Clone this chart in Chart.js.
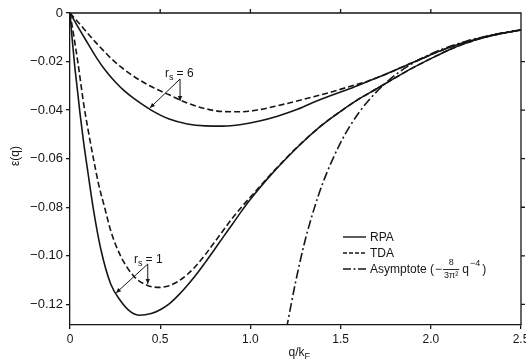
<!DOCTYPE html>
<html>
<head>
<meta charset="utf-8">
<script src="https://cdn.jsdelivr.net/npm/chart.js@4.4.1/dist/chart.umd.min.js"></script>
<style>
  body { margin: 0; background: #fff; }
  canvas { display: block; }
</style>
</head>
<body>
<canvas id="epsChart" width="526" height="360"></canvas>
<script>
// tick labels
const xTicks = [0, 0.5, 1.0, 1.5, 2.0, 2.5];
const yTicks = [0, -0.02, -0.04, -0.06, -0.08, -0.10, -0.12];

// r_s = 1, RPA (solid)
const qRpa1 = [0, 0.01, 0.025, 0.04, 0.055, 0.075, 0.1, 0.13, 0.17, 0.225, 0.28, 0.335, 0.385, 0.45, 0.5,
  0.55, 0.6, 0.65, 0.7, 0.75, 0.8, 0.85, 0.9, 0.95, 1.0, 1.1, 1.2, 1.3, 1.4, 1.5, 1.6, 1.7, 1.8, 1.9, 2.0, 2.1, 2.2, 2.3, 2.4, 2.5];
const rpa1 = [0, -0.009, -0.021, -0.031, -0.041, -0.053, -0.066, -0.081, -0.097, -0.1115, -0.1185, -0.123, -0.1245, -0.1238, -0.1222,
  -0.1198, -0.1163, -0.1122, -0.1077, -0.1027, -0.0975, -0.0922, -0.087, -0.0817, -0.0767, -0.0678, -0.0598, -0.0525, -0.046, -0.0405,
  -0.0355, -0.0312, -0.0268, -0.0226, -0.0188, -0.0152, -0.0123, -0.0100, -0.0083, -0.007];

// r_s = 1, TDA (dashed)
const qTda1 = [0, 0.02, 0.045, 0.075, 0.1, 0.13, 0.16, 0.19, 0.225, 0.28, 0.355, 0.43, 0.495, 0.55, 0.6, 0.65, 0.7, 0.75, 0.8, 0.85, 0.9, 0.95,
  1.0, 1.1, 1.2, 1.3, 1.4, 1.5, 1.6, 1.7, 1.8, 1.9, 2.0, 2.1, 2.2, 2.3, 2.4, 2.5];
const tda1 = [0, -0.009, -0.021, -0.037, -0.048, -0.060, -0.071, -0.0795, -0.0895, -0.100, -0.1085, -0.1122, -0.113, -0.1123, -0.1105, -0.1077, -0.104, -0.0995, -0.0945, -0.0895, -0.0845, -0.080,
  -0.0758, -0.0675, -0.0596, -0.0524, -0.046, -0.0405, -0.0355, -0.0312, -0.0268, -0.0226, -0.0188, -0.0152, -0.0123, -0.0100, -0.0083, -0.007];

// r_s = 6, RPA (solid)
const qRpa6 = [0, 0.04, 0.08, 0.15, 0.2, 0.25, 0.3, 0.35, 0.45, 0.55, 0.65, 0.75, 0.85, 0.95, 1.05, 1.15, 1.25, 1.35,
  1.45, 1.55, 1.65, 1.75, 1.85, 1.95, 2.05, 2.15, 2.25, 2.35, 2.5];
const rpa6 = [0, -0.0052, -0.0102, -0.0188, -0.0240, -0.0283, -0.0320, -0.035, -0.040, -0.0437, -0.0457, -0.0465, -0.0466, -0.0459, -0.0445, -0.0425, -0.040, -0.0368,
  -0.0339, -0.0312, -0.0282, -0.0252, -0.022, -0.0188, -0.0157, -0.013, -0.0108, -0.009, -0.007];

// r_s = 6, TDA (dashed)
const qTda6 = [0, 0.044, 0.15, 0.25, 0.35, 0.45, 0.55, 0.65, 0.75, 0.85, 0.95, 1.05, 1.15, 1.25, 1.35, 1.45, 1.55,
  1.65, 1.75, 1.85, 1.95, 2.05, 2.15, 2.25, 2.35, 2.5];
const tda6 = [0, -0.0037, -0.0127, -0.0202, -0.0259, -0.0303, -0.0337, -0.0371, -0.0394, -0.0406, -0.0407, -0.0398, -0.0382, -0.0364, -0.0345, -0.0325, -0.0303,
  -0.0281, -0.0252, -0.022, -0.0188, -0.0157, -0.013, -0.0108, -0.009, -0.007];

// large-q asymptote (dash-dot)
const qAsym = [1.2, 1.25, 1.3, 1.35, 1.4, 1.5, 1.6, 1.7, 1.8, 1.9, 2.0, 2.1, 2.2, 2.3, 2.4, 2.5];
const asym = [-0.130, -0.111, -0.0946, -0.0814, -0.0703, -0.0534, -0.0412, -0.0324, -0.0257, -0.0207, -0.0169, -0.0139, -0.0115, -0.0097, -0.0082, -0.0069];

const ink = '#161616';
const font = '"Liberation Sans", Arial, Helvetica, sans-serif';

function pts(qs, vs) {
  return qs.map((q, i) => ({ x: q, y: vs[i] }));
}

function line(label, qs, vs, dash) {
  return {
    label: label,
    data: pts(qs, vs),
    borderColor: ink,
    borderWidth: 1.6,
    borderDash: dash,
    pointRadius: 0,
    fill: false,
    cubicInterpolationMode: 'monotone'
  };
}

function arrow(ctx, x1, y1, x2, y2) {
  ctx.beginPath();
  ctx.moveTo(x1, y1);
  ctx.lineTo(x2, y2);
  ctx.stroke();
  const a = Math.atan2(y2 - y1, x2 - x1);
  const len = 5, w = 2.2;
  ctx.beginPath();
  ctx.moveTo(x2, y2);
  ctx.lineTo(x2 - len * Math.cos(a) + w * Math.sin(a), y2 - len * Math.sin(a) - w * Math.cos(a));
  ctx.lineTo(x2 - len * Math.cos(a) - w * Math.sin(a), y2 - len * Math.sin(a) + w * Math.cos(a));
  ctx.closePath();
  ctx.fill();
}

function rsLabel(ctx, x, y, val) {
  ctx.font = '12px ' + font;
  ctx.fillText('r', x, y);
  let cx = x + ctx.measureText('r').width;
  ctx.font = '9px ' + font;
  ctx.fillText('s', cx, y + 3);
  cx += ctx.measureText('s').width + 3;
  ctx.font = '12px ' + font;
  ctx.fillText('= ' + val, cx, y);
}

const extras = {
  id: 'extras',
  afterDraw(chart) {
    const { ctx, chartArea: a, scales: { x, y } } = chart;
    ctx.save();
    ctx.strokeStyle = ink;
    ctx.fillStyle = ink;

    // top and right frame with ticks
    ctx.lineWidth = 1.3;
    ctx.setLineDash([]);
    ctx.beginPath();
    ctx.moveTo(a.left, a.top);
    ctx.lineTo(a.right, a.top);
    ctx.lineTo(a.right, a.bottom);
    xTicks.slice(1, -1).forEach(v => {
      const px = x.getPixelForValue(v);
      ctx.moveTo(px, a.top);
      ctx.lineTo(px, a.top - 4);
    });
    yTicks.slice(1).forEach(v => {
      const py = y.getPixelForValue(v);
      ctx.moveTo(a.right, py);
      ctx.lineTo(a.right + 4, py);
    });
    ctx.stroke();

    // axis titles
    ctx.textBaseline = 'alphabetic';
    ctx.textAlign = 'left';
    ctx.font = '12px ' + font;
    const qk = 'q/k';
    const qkW = ctx.measureText(qk).width;
    const xt = (a.left + a.right) / 2 - qkW / 2 + 1;
    ctx.fillText(qk, xt, 356);
    ctx.font = '9px ' + font;
    ctx.fillText('F', xt + qkW, 359);

    ctx.save();
    ctx.translate(19, 156);
    ctx.rotate(-Math.PI / 2);
    ctx.font = '12px ' + font;
    ctx.textAlign = 'center';
    ctx.fillText('\u03b5(q)', 0, 0);
    ctx.restore();

    // r_s annotations with arrows
    ctx.lineWidth = 1;
    const v6x = x.getPixelForValue(0.61), v6y = y.getPixelForValue(-0.0272);
    arrow(ctx, v6x, v6y, x.getPixelForValue(0.61), y.getPixelForValue(-0.0362));
    arrow(ctx, v6x, v6y, x.getPixelForValue(0.443), y.getPixelForValue(-0.0391));
    rsLabel(ctx, x.getPixelForValue(0.527), y.getPixelForValue(-0.0264), '6');

    const v1x = x.getPixelForValue(0.431), v1y = y.getPixelForValue(-0.1034);
    arrow(ctx, v1x, v1y, x.getPixelForValue(0.431), y.getPixelForValue(-0.1116));
    arrow(ctx, v1x, v1y, x.getPixelForValue(0.255), y.getPixelForValue(-0.1153));
    rsLabel(ctx, x.getPixelForValue(0.355), y.getPixelForValue(-0.103), '1');

    // legend
    const lx0 = 343, lx1 = 366, tx = 370;
    const rows = [
      { y: 237, dash: [], text: 'RPA' },
      { y: 253, dash: [4, 2], text: 'TDA' },
      { y: 269, dash: [8, 2.5, 2, 2.5], text: 'Asymptote (' }
    ];
    ctx.lineWidth = 1.4;
    ctx.textBaseline = 'middle';
    rows.forEach(r => {
      ctx.setLineDash(r.dash);
      ctx.beginPath();
      ctx.moveTo(lx0, r.y);
      ctx.lineTo(lx1, r.y);
      ctx.stroke();
      ctx.font = '12px ' + font;
      ctx.fillText(r.text, tx, r.y + 1);
    });
    ctx.setLineDash([]);
    // fraction in asymptote label
    ctx.font = '12px ' + font;
    let cx = tx + ctx.measureText('Asymptote (').width + 1;
    ctx.fillText('\u2212', cx, 270);
    cx += ctx.measureText('\u2212').width + 1;
    ctx.font = '9px ' + font;
    const den = '3\u03c0\u00b2';
    const fw = ctx.measureText(den).width + 2;
    ctx.lineWidth = 0.9;
    ctx.beginPath();
    ctx.moveTo(cx, 269.5);
    ctx.lineTo(cx + fw, 269.5);
    ctx.stroke();
    ctx.textAlign = 'center';
    ctx.fillText('8', cx + fw / 2, 263);
    ctx.fillText(den, cx + fw / 2, 276);
    ctx.textAlign = 'left';
    cx += fw + 3;
    ctx.font = '12px ' + font;
    ctx.fillText('q', cx, 270);
    cx += ctx.measureText('q').width + 1;
    ctx.font = '9px ' + font;
    ctx.fillText('\u22124', cx, 264);
    cx += ctx.measureText('\u22124').width + 2;
    ctx.font = '12px ' + font;
    ctx.fillText(')', cx, 270);

    ctx.restore();
  }
};

new Chart(document.getElementById('epsChart').getContext('2d'), {
  type: 'line',
  data: {
    datasets: [
      line('Asymptote', qAsym, asym, [9, 3, 2, 3]),
      line('TDA r_s=6', qTda6, tda6, [6, 3]),
      line('TDA r_s=1', qTda1, tda1, [6, 3]),
      line('RPA r_s=6', qRpa6, rpa6, []),
      line('RPA r_s=1', qRpa1, rpa1, [])
    ]
  },
  options: {
    responsive: false,
    animation: false,
    layout: { padding: { top: 13, right: 5, left: 0, bottom: 0 } },
    plugins: {
      legend: { display: false },
      tooltip: { enabled: false }
    },
    scales: {
      x: {
        type: 'linear',
        min: 0,
        max: 2.5,
        afterBuildTicks: s => { s.ticks = xTicks.map(v => ({ value: v })); },
        afterFit: s => { s.height = 35; s.paddingLeft = 0; s.paddingRight = 0; },
        ticks: {
          color: ink,
          font: { family: font, size: 12 },
          padding: 3,
          maxRotation: 0,
          callback: v => v === 0 ? '0' : v.toFixed(1)
        },
        grid: { drawOnChartArea: false, drawTicks: true, tickLength: 4, color: ink, lineWidth: 1.3 },
        border: { display: true, color: ink, width: 1.3 }
      },
      y: {
        type: 'linear',
        min: -0.1285,
        max: 0,
        afterBuildTicks: s => { s.ticks = yTicks.map(v => ({ value: v })); },
        afterFit: s => { s.width = 70; s.paddingTop = 0; s.paddingBottom = 0; },
        ticks: {
          color: ink,
          font: { family: font, size: 13 },
          padding: 3,
          callback: v => v === 0 ? '0' : '\u2212' + Math.abs(v).toFixed(2)
        },
        grid: { drawOnChartArea: false, drawTicks: true, tickLength: 4, color: ink, lineWidth: 1.3 },
        border: { display: true, color: ink, width: 1.3 }
      }
    }
  },
  plugins: [extras]
});
</script>
</body>
</html>
